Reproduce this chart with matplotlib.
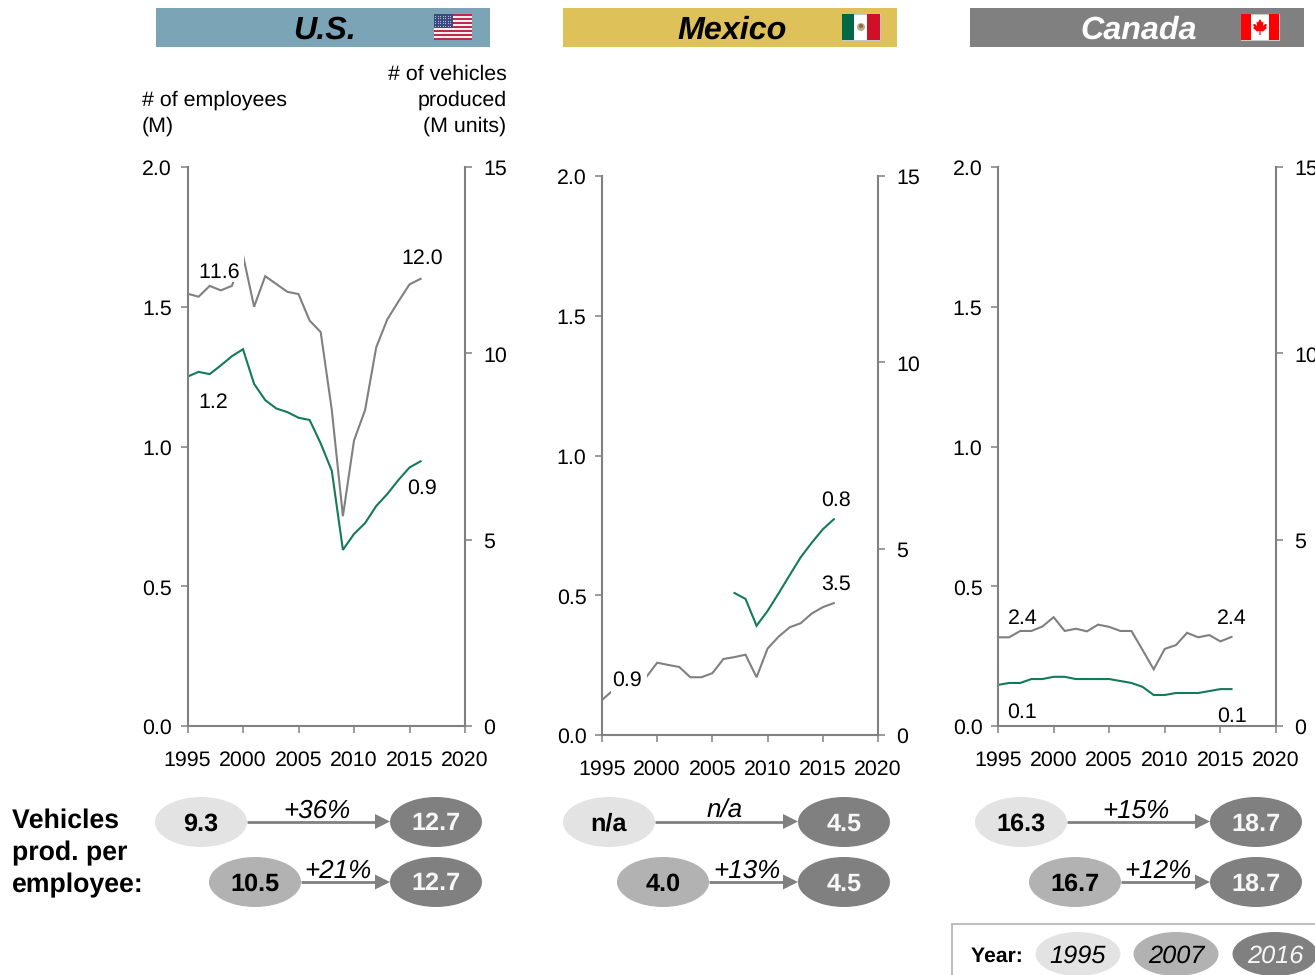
"""Auto employment vs vehicle production for U.S., Mexico and Canada, 1995-2016."""
import matplotlib
matplotlib.use("Agg")
import matplotlib.pyplot as plt
from matplotlib.patches import Ellipse, Polygon, Rectangle, Circle
from matplotlib.transforms import ScaledTranslation
import numpy as np

plt.rcParams["font.family"] = ["Liberation Sans", "DejaVu Sans"]
plt.rcParams["text.hinting"] = "no_hinting"
plt.rcParams["text.kerning_factor"] = 6

W, H = 1315, 975
GREY = "#808080"
GREEN = "#137A5C"
TICK_SIZE = 15.4

years = list(range(1995, 2017))
x_ticks = [1995, 2000, 2005, 2010, 2015, 2020]
left_ticks = [0.0, 0.5, 1.0, 1.5, 2.0]
right_ticks = [0, 5, 10, 15]

us_emp = [1.25, 1.267, 1.259, 1.29, 1.323, 1.348, 1.224, 1.166, 1.136, 1.123, 1.103,
          1.095, 1.011, 0.913, 0.63, 0.687, 0.726, 0.787, 0.83, 0.88, 0.925, 0.947]
us_veh = [11.6, 11.52, 11.81, 11.69, 11.81, 12.63, 11.25, 12.07, 11.86, 11.65, 11.59,
          10.88, 10.57, 8.48, 5.63, 7.66, 8.48, 10.16, 10.91, 11.39, 11.85, 12.0]

mx_emp_years = list(range(2007, 2017))
mx_emp = [0.508, 0.487, 0.391, 0.444, 0.507, 0.572, 0.636, 0.688, 0.736, 0.772]
mx_veh = [0.94, 1.2, 1.36, 1.45, 1.55, 1.94, 1.88, 1.825, 1.55, 1.55, 1.66,
          2.04, 2.09, 2.155, 1.55, 2.32, 2.64, 2.89, 3.0, 3.26, 3.43, 3.54]

ca_emp = [0.147, 0.154, 0.154, 0.168, 0.168, 0.176, 0.176, 0.168, 0.168, 0.168, 0.168,
          0.161, 0.154, 0.14, 0.111, 0.111, 0.118, 0.118, 0.118, 0.125, 0.132, 0.132]
ca_veh = [2.38, 2.38, 2.55, 2.55, 2.67, 2.92, 2.55, 2.61, 2.54, 2.72, 2.66,
          2.55, 2.55, 2.04, 1.52, 2.07, 2.17, 2.5, 2.38, 2.44, 2.27, 2.39]

# value ovals per country: 1995, 2007, 2016, then the two growth labels
us_prod = ["9.3", "10.5", "12.7", "+36%", "+21%"]
mx_prod = ["n/a", "4.0", "4.5", "n/a", "+13%"]
ca_prod = ["16.3", "16.7", "18.7", "+15%", "+12%"]
legend_years = ["1995", "2007", "2016"]


def make_axes(fig, x0, x1, ytop, ybot, emp_x, emp, veh):
    ax = fig.add_axes([x0 / W, 1 - ybot / H, (x1 - x0) / W, (ybot - ytop) / H])
    axr = ax.twinx()
    ax.plot(emp_x, emp, color=GREEN, lw=1.5, solid_joinstyle="miter")
    axr.plot(years, veh, color=GREY, lw=1.5, solid_joinstyle="miter")
    ax.set_xlim(1995, 2020)
    ax.set_ylim(0, 2)
    axr.set_ylim(0, 15)
    ax.set_xticks(x_ticks)
    ax.set_yticks(left_ticks)
    ax.set_yticklabels([f"{v:.1f}" for v in left_ticks])
    axr.set_yticks(right_ticks)
    ax.patch.set_visible(False)
    for a in (ax, axr):
        a.spines["top"].set_visible(False)
        for s in a.spines.values():
            s.set_color(GREY)
            s.set_linewidth(1.5)
    ax.spines["right"].set_visible(False)
    axr.spines["left"].set_visible(False)
    axr.spines["bottom"].set_visible(False)
    ax.tick_params(axis="x", length=5, width=1.1, color=GREY, labelsize=TICK_SIZE, pad=13)
    ax.tick_params(axis="y", length=5, width=1.1, color=GREY, labelsize=TICK_SIZE, pad=6.2)
    axr.tick_params(axis="y", length=5, width=1.1, color=GREY, labelsize=TICK_SIZE, pad=8)
    # nudge value labels down a touch so digits sit centred on their ticks
    nudge = ScaledTranslation(0, -0.5 / 100, fig.dpi_scale_trans)
    for lab in ax.get_yticklabels() + axr.get_yticklabels():
        lab.set_transform(lab.get_transform() + nudge)
    return ax, axr


def oval(ov, cx, cy, text, shade, w=92, h=50, size=18.2, weight="bold", style="normal"):
    fill, tc = {"light": ("#E3E3E3", "black"), "mid": ("#B2B2B2", "black"),
                "dark": ("#808080", "#F7F7F7")}[shade]
    ov.add_patch(Ellipse((cx, cy), w, h, fc=fill, ec="none", zorder=3))
    ov.text(cx, cy + 2, text, ha="center", va="center", color=tc, fontsize=size,
            fontweight=weight, fontstyle=style, zorder=4)


def arrow(ov, x0, x1, y):
    ov.plot([x0, x1 - 14], [y, y], color=GREY, lw=2, solid_capstyle="butt", zorder=2)
    ov.add_patch(Polygon([(x1 - 15, y - 7.5), (x1, y), (x1 - 15, y + 7.5)],
                         fc=GREY, ec="none", zorder=2))


def prod_row(ov, x_first, x_second, x_last, vals, xg1, xg2):
    oval(ov, x_first, 822, vals[0], "light")
    oval(ov, x_last, 822, vals[2], "dark")
    oval(ov, x_second, 882, vals[1], "mid")
    oval(ov, x_last, 882, vals[2], "dark")
    arrow(ov, x_first + 46, x_last - 46, 821.5)
    arrow(ov, x_second + 46, x_last - 46, 882)
    ov.text(xg1, 811.5, vals[3], ha="center", va="center", fontsize=18.7, fontstyle="italic", zorder=5)
    ov.text(xg2, 871.5, vals[4], ha="center", va="center", fontsize=18.7, fontstyle="italic", zorder=5)


def header(ov, x0, color, name, tc, xt):
    ov.add_patch(Rectangle((x0, 7.5), 334, 39.5, fc=color, ec="none"))
    ov.text(xt, 30.5, name, ha="center", va="center", color=tc, fontsize=23.2,
            fontweight="bold", fontstyle="italic")


def flag_us(ov, x, y):
    stripe = 26 / 13
    for i in range(13):
        c = "#BF2A4A" if i % 2 == 0 else "#F4F0F0"
        ov.add_patch(Rectangle((x, y + i * stripe), 38, stripe, fc=c, ec="none"))
    ov.add_patch(Rectangle((x, y), 19.5, 14, fc="#3A4A80", ec="none"))
    dx, dy = np.meshgrid(np.arange(x + 1.5, x + 19, 2.5), np.arange(y + 1.5, y + 14, 2.5))
    ov.scatter(dx.ravel(), dy.ravel(), s=0.6, color="#C8CCE0", linewidths=0)


def flag_mx(ov, x, y):
    ov.add_patch(Rectangle((x, y), 38, 26, fc="white", ec="#C8C8C8", lw=0.8))
    ov.add_patch(Rectangle((x, y), 12.5, 26, fc="#006847", ec="none"))
    ov.add_patch(Rectangle((x + 25.5, y), 12.5, 26, fc="#CE1126", ec="none"))
    ov.add_patch(Circle((x + 19, y + 13), 4, fc="#B7A88A", ec="none"))
    ov.add_patch(Circle((x + 19, y + 12), 2, fc="#8A6A3A", ec="none"))


def flag_ca(ov, x, y):
    ov.add_patch(Rectangle((x, y), 38, 26, fc="white", ec="#C8C8C8", lw=0.8))
    ov.add_patch(Rectangle((x, y), 10, 26, fc="#FF0000", ec="none"))
    ov.add_patch(Rectangle((x + 28, y), 10, 26, fc="#FF0000", ec="none"))
    cx, cy = x + 19, y + 13
    leaf = [(0, -8), (2, -4.5), (3.5, -5.5), (3, -1), (5, -3), (7, -2.5), (6, 0), (7, 1),
            (3, 4.5), (0.6, 4), (0.6, 8), (-0.6, 8), (-0.6, 4), (-3, 4.5), (-7, 1), (-6, 0),
            (-7, -2.5), (-5, -3), (-3, -1), (-3.5, -5.5), (-2, -4.5)]
    ov.add_patch(Polygon([(cx + a, cy + b) for a, b in leaf], fc="#FF0000", ec="none"))


def main():
    fig = plt.figure(figsize=(W / 100, H / 100), dpi=100)

    make_axes(fig, 187.5, 465, 167, 726, years, us_emp, us_veh)
    make_axes(fig, 602, 878, 176, 735, mx_emp_years, mx_emp, mx_veh)
    make_axes(fig, 998, 1276, 167, 726, years, ca_emp, ca_veh)

    # full-figure overlay in pixel units for banners, labels and ovals
    ov = fig.add_axes([0, 0, 1, 1], zorder=10)
    ov.set_xlim(0, W)
    ov.set_ylim(H, 0)
    ov.axis("off")

    header(ov, 156, "#7BA4B6", "U.S.", "black", 325)
    header(ov, 563, "#DFC15A", "Mexico", "black", 732)
    header(ov, 970, "#808080", "Canada", "white", 1138.5)
    flag_us(ov, 434, 14)
    flag_mx(ov, 842, 14)
    flag_ca(ov, 1241, 14)

    ov.text(142, 113.5, "# of employees\n(M)", ha="left", va="center", fontsize=TICK_SIZE, linespacing=1.42)
    ov.text(506.5, 100.5, "# of vehicles\nproduced\n(M units)", ha="right", va="center",
            fontsize=TICK_SIZE, linespacing=1.42)

    # white masks behind the labels that sit on the lines
    ov.add_patch(Rectangle((193, 254), 51, 28, fc="white", ec="none", zorder=1))
    ov.add_patch(Rectangle((611, 664), 36, 31, fc="white", ec="none", zorder=1))

    labels = [
        (219, 271, us_veh[0]), (213, 401, us_emp[0]), (422, 257, us_veh[-1]), (422, 487, us_emp[-1]),
        (627, 679, mx_veh[0]), (836, 583, mx_veh[-1]), (836, 499, mx_emp[-1]),
        (1023, 617, ca_veh[0]), (1232, 617, ca_veh[-1]), (1022, 711, ca_emp[0]), (1232, 715, ca_emp[-1]),
    ]
    for x, y, v in labels:
        ov.text(x, y + 1.5, f"{v:.1f}", ha="center", va="center", fontsize=TICK_SIZE, zorder=2)

    ov.text(12, 853, "Vehicles\nprod. per\nemployee:", ha="left", va="center", fontsize=19.2,
            fontweight="bold", linespacing=1.36)
    prod_row(ov, 201, 255, 436, us_prod, 316.5, 338)
    prod_row(ov, 609, 663, 844, mx_prod, 725, 746.5)
    prod_row(ov, 1021, 1075, 1256, ca_prod, 1136, 1158)

    # year key, runs off the bottom right corner
    ov.add_patch(Rectangle((952, 923.5), 400, 100, fc="white", ec="#BFBFBF", lw=1.5, zorder=1))
    ov.text(971, 956, "Year:", ha="left", va="center", fontsize=15.2, fontweight="bold", zorder=4)
    for cx, shade, yr in zip([1078, 1176, 1275], ["light", "mid", "dark"], legend_years):
        oval(ov, cx, 954, yr, shade, w=85, h=44, size=18.3, weight="normal", style="italic")

    fig.savefig("out.png", dpi=100)
    plt.close(fig)


if __name__ == "__main__":
    main()
